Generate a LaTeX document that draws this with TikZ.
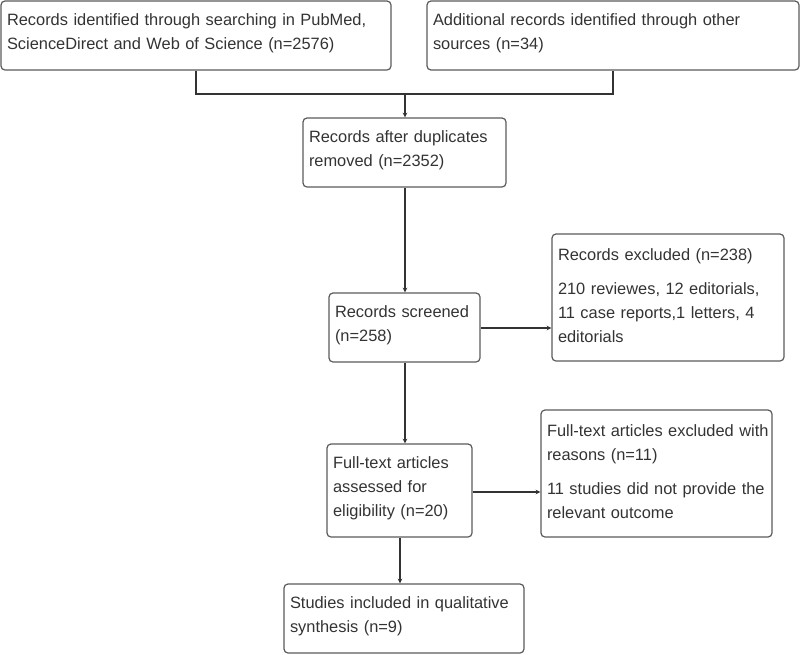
\documentclass[tikz,border=0pt]{standalone}
\usepackage{fontspec}
\setmainfont{Liberation Sans}
\usepackage{tikz}
\definecolor{boxline}{HTML}{5A5A5A}
\definecolor{ink}{HTML}{333333}
\newcommand{\boxpad}{\endgraf\vspace*{4pt}}

\begin{document}
\begin{tikzpicture}[x=1pt, y=-1pt,
		box/.style={draw=boxline, line width=1.2pt, rectangle, rounded corners=4pt, inner xsep=6pt, inner ysep=0pt, align=left, text=ink, font=\fontsize{16.4}{24}\selectfont, execute at end node=\boxpad},
		link/.style={draw=ink, line width=1.1pt, >=stealth}]
				\useasboundingbox (0, 0) rectangle (800, 654);
				\node[box, text width=378pt, minimum height=69pt] (Id)at(196, 35.5) {Records identified through searching in PubMed,\\ScienceDirect and Web of Science (n=2576)};
				\node[box, text width=360pt, minimum height=69pt] (Add)at(613, 35.5) {Additional records identified through other\\sources (n=34)};
				\node[box, text width=191pt, minimum height=69pt] (Dup)at(404.5, 152.5) {Records after duplicates\\removed (n=2352)};
				\node[box, text width=139pt, minimum height=69pt] (Scr)at(404.5, 327.5) {Records screened\\(n=258)};
				\node[box, text width=220pt, minimum height=127pt] (Exc)at(668, 297.5) {Records excluded (n=238)\\[10pt]210 reviewes, 12 editorials,\\11 case reports,1 letters, 4\\editorials};
				\node[box, text width=133pt, minimum height=93pt] (Full)at(399.5, 490.5) {Full-text articles\\assessed for\\eligibility (n=20)};
				\node[box, text width=219pt, minimum height=127pt] (FExc)at(656.5, 473.5) {\mbox{Full-text articles excluded with}\\reasons (n=11)\\[10pt]\mbox{11 studies did not provide the}\\relevant outcome};
				\node[box, text width=228pt, minimum height=69pt] (Inc)at(404, 618.5) {Studies included in qualitative\\synthesis (n=9)};
				\coordinate (J)at(405, 94);
				\draw[link] (Id.south) |- (J);
				\draw[link] (Add.south) |- (J);
				\draw[link, ->] (J) -- (J |- Dup.north);
				\draw[link, ->] (J |- Dup.south) -- (J |- Scr.north);
				\draw[link, ->] (Scr.east |- 0, 328) -- (Exc.west |- 0, 328);
				\draw[link, ->] (J |- Scr.south) -- (J |- Full.north);
				\draw[link, ->] (Full.east |- 0, 492) -- (FExc.west |- 0, 492);
				\draw[link, ->] (Full.south -| 400, 0) -- (Inc.north -| 400, 0);
			\end{tikzpicture}
\end{document}
